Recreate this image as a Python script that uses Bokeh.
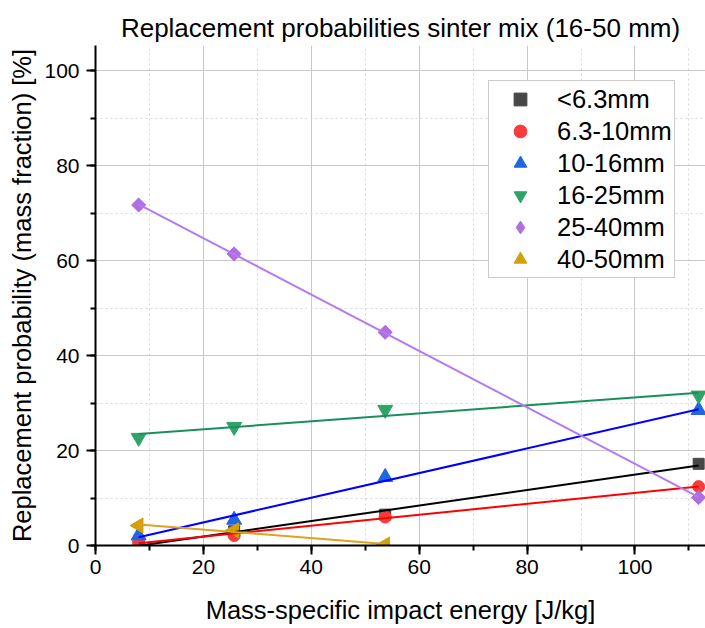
import numpy as np
from bokeh.plotting import figure
from bokeh.models import Range1d, SingleIntervalTicker, Legend, LegendItem
from bokeh.embed import file_html
from bokeh.resources import INLINE

# ---- data ----
energy = [8.0, 25.7, 53.7, 111.8]          # J/kg
size_classes = ["<6.3mm", "6.3-10mm", "10-16mm", "16-25mm", "25-40mm", "40-50mm"]
p_lt63 = [0.3, 3.0, 6.5, 17.2]
p_63_10 = [0.7, 2.1, 6.0, 12.4]
p_10_16 = [2.1, 5.4, 14.4, 28.5]
p_16_25 = [22.7, 25.0, 28.6, 31.6]
p_25_40 = [71.7, 61.4, 44.9, 10.1]
energy_40_50 = [8.0, 25.7, 53.7]
p_40_50 = [4.2, 3.2, 0.2]

FONT = "Liberation Sans"

p = figure(width=705, height=628, output_backend="svg", toolbar_location=None,
           x_range=Range1d(0, 113.07), y_range=Range1d(0, 105.3),
           min_border_left=95, min_border_right=0, min_border_top=45, min_border_bottom=83,
           title="Replacement probabilities sinter mix (16-50 mm)")
p.outline_line_color = None
p.background_fill_color = "white"
p.border_fill_color = "white"

p.title.text_font = FONT
p.title.text_font_size = "26px"
p.title.text_font_style = "normal"
p.title.text_color = "black"
p.title.align = "center"
p.title.vertical_align = "middle"
p.title.standoff = 4

for ax in (p.xaxis[0], p.yaxis[0]):
    ax.ticker = SingleIntervalTicker(interval=20, num_minor_ticks=2)
    ax.axis_line_width = 2
    ax.axis_line_color = "black"
    ax.major_tick_line_width = 2
    ax.major_tick_line_color = "black"
    ax.minor_tick_line_width = 2
    ax.minor_tick_line_color = "black"
    ax.major_tick_out = 9
    ax.major_tick_in = 0
    ax.minor_tick_out = 5
    ax.minor_tick_in = 0
    ax.major_label_text_font = FONT
    ax.major_label_text_font_size = "21px"
    ax.major_label_text_color = "black"
    ax.axis_label_text_font = FONT
    ax.axis_label_text_font_size = "25.5px"
    ax.axis_label_text_font_style = "normal"
    ax.axis_label_text_color = "black"

p.xaxis.axis_label = "Mass-specific impact energy [J/kg]"
p.yaxis.axis_label = "Replacement probability (mass fraction) [%]"
p.xaxis.major_label_standoff = 5
p.yaxis.major_label_standoff = 7
p.xaxis.axis_label_standoff = 19
p.yaxis.axis_label_standoff = 5

for g in (p.xgrid[0], p.ygrid[0]):
    g.grid_line_color = "#c8c8c8"
    g.grid_line_width = 1
    g.minor_grid_line_color = "#d8d8d8"
    g.minor_grid_line_dash = "2 3"
    g.minor_grid_line_width = 1

# label, x, y, plot marker, size, angle, legend marker, marker colour, line colour
series = [
    (size_classes[0], energy, p_lt63, "square", 11, 0.0, "square", "#474747", "#000000"),
    (size_classes[1], energy, p_63_10, "circle", 12, 0.0, "circle", "#f83c3c", "#ff0000"),
    (size_classes[2], energy, p_10_16, "triangle", 15, 0.0, "triangle", "#1f66e0", "#0000ff"),
    (size_classes[3], energy, p_16_25, "inverted_triangle", 15, 0.0, "inverted_triangle", "#2ea466", "#1a8f5c"),
    (size_classes[4], energy, p_25_40, "square", 10, np.pi / 4, "diamond", "#b06ee0", "#b47af2"),
    (size_classes[5], energy_40_50, p_40_50, "triangle", 15, np.pi / 2, "triangle", "#d4a00a", "#e0a020"),
]

items = []
for label, xs, ys, marker, size, angle, lmarker, mcol, lcol in series:
    # small legend proxy hidden beneath the real marker (legend draws it at its own size)
    proxy = p.scatter(xs, ys, marker=lmarker, size=4, fill_color=mcol, line_color=mcol)
    p.scatter(xs, ys, marker=marker, size=size, fill_color=mcol, line_color=mcol, angle=angle)
    items.append(LegendItem(label=label, renderers=[proxy]))

# linear fit lines drawn over the markers
for label, xs, ys, marker, size, angle, lmarker, mcol, lcol in series:
    k, b = np.polyfit(xs, ys, 1)
    x0, x1 = min(xs), max(xs)
    p.line([x0, x1], [k * x0 + b, k * x1 + b], line_color=lcol, line_width=2)

legend = Legend(items=items, location=(393, 267))
legend.label_text_font = FONT
legend.label_text_font_size = "25.5px"
legend.label_text_color = "black"
legend.label_height = 32
legend.glyph_height = 32
legend.glyph_width = 58
legend.label_standoff = 8
legend.spacing = 0
legend.padding = 2
legend.margin = 0
legend.border_line_color = "#9a9a9a"
legend.border_line_width = 1.5
legend.background_fill_color = "white"
legend.background_fill_alpha = 1.0
p.add_layout(legend)

open("out.html", "w").write(file_html(p, INLINE))
